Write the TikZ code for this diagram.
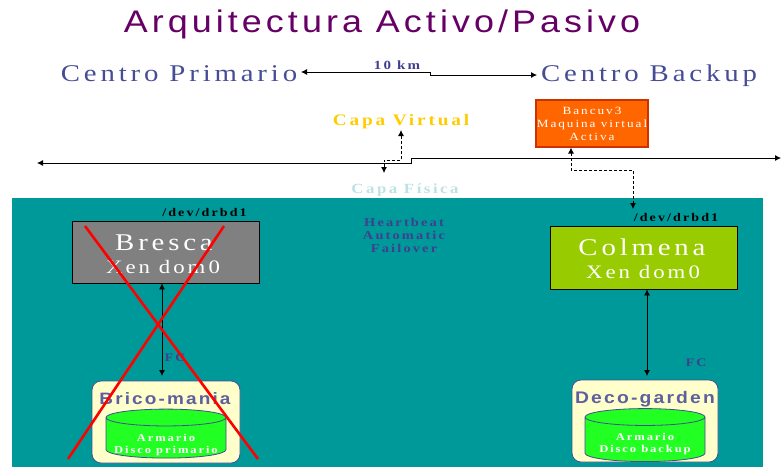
\documentclass[tikz,border=0pt]{standalone}
\usepackage{fontspec}
\setmainfont{Liberation Serif}
\newfontfamily\sansspaced[LetterSpace=13,FakeStretch=1.15]{Liberation Sans}
\newfontfamily\serifwide[LetterSpace=16,FakeStretch=1.2]{Liberation Serif}
\newfontfamily\serifbold[LetterSpace=18,FakeStretch=1.2]{Liberation Serif}
\usetikzlibrary{positioning,shapes.geometric,arrows.meta}
\definecolor{tealbg}{HTML}{009999}
\definecolor{titlepurple}{HTML}{660066}
\definecolor{centroblue}{HTML}{464C96}
\definecolor{storeblue}{HTML}{5F5F9F}
\definecolor{fcblue}{HTML}{3F3F8F}
\definecolor{capagold}{HTML}{FFCC00}
\definecolor{capapale}{HTML}{BCE3E3}
\definecolor{limebox}{HTML}{99CC00}
\definecolor{orangebox}{HTML}{FF6600}
\definecolor{orangeline}{HTML}{CC3300}
\definecolor{creambox}{HTML}{FFFFCC}
\definecolor{diskgreen}{HTML}{22FF22}
\definecolor{crossred}{HTML}{FF0000}
\tikzset{
  wire/.style={black,line width=0.8pt,-{Latex[length=6pt,width=6pt]}},
  wirelong/.style={wire,{Latex[length=6pt,width=6pt]}-{Latex[length=6pt,width=6pt]}},
  dashwire/.style={wirelong,dashed,dash pattern=on 3pt off 2pt},
  serverbox/.style={draw=black,line width=0.8pt,inner sep=0pt,align=center,text=white},
  storebox/.style={draw=centroblue,fill=creambox,rounded corners=9pt,line width=0.8pt},
  diskshape/.style={shape=cylinder,shape border rotate=90,shape aspect=0.28,draw=centroblue,line width=0.8pt,
    cylinder uses custom fill,cylinder body fill=diskgreen,cylinder end fill=diskgreen,inner sep=0pt,
    minimum width=120pt},
  smalltext/.style={font=\serifbold\bfseries\fontsize{10.5}{12}\selectfont,align=center},
  fctext/.style={text=fcblue,font=\serifbold\bfseries\fontsize{11.5}{13}\selectfont},
  drbdtext/.style={font=\serifbold\bfseries\fontsize{11.7}{12}\selectfont},
  centrotext/.style={text=centroblue,anchor=base,font=\serifwide\fontsize{24}{24}\selectfont},
  nametext/.style={text=white,font=\serifwide\fontsize{24}{26}\selectfont},
  xentext/.style={text=white,font=\serifwide\fontsize{19}{20}\selectfont},
  storetext/.style={text=storeblue,font=\sansspaced\bfseries\fontsize{16.5}{19}\selectfont},
  crossline/.style={crossred,line width=2.6pt}
}
\begin{document}
\begin{tikzpicture}[x=1pt,y=-1pt]
    \useasboundingbox (0,0) rectangle (781,467);
    \fill[tealbg] (12,198) rectangle (763,467);
    % heads
    \node[text=titlepurple,font=\sansspaced\fontsize{31.2}{36}\selectfont] (title) at (382,24) {Arquitectura Activo/Pasivo};
    \node[centrotext] (primario) at (179,81) {Centro Primario};
    \node[centrotext] (backup) at (649,81) {Centro Backup};
    \node[text=fcblue,font=\serifbold\bfseries\fontsize{12.5}{12}\selectfont] (dist) at (397,65) {10 km};
    \coordinate (primarioend) at (301,72);
    \coordinate (backupend) at (537,75);
    \draw[wirelong] (primarioend) -- (430,72) -- (430,75) -- (backupend);
    % layers
    \node[text=capagold,font=\serifbold\bfseries\fontsize{16}{16}\selectfont] (virtual) at (401,122) {Capa Virtual};
    \node[text=capapale,font=\serifbold\bfseries\fontsize{14}{15}\selectfont] (fisica) at (405,190) {Capa Física};
    \coordinate (netleft) at (37,163);
    \coordinate (netright) at (781,158);
    \draw[wirelong] (netleft) -- (411,163) -- (411,158) -- (netright);
    \coordinate (vlow) at (384,173);
    \coordinate (vtop) at (401,130);
    \draw[dashwire] (vlow) -- (384,160) -- (401,160) -- (vtop);
    % active machine
    \node[serverbox,draw=orangeline,line width=1.2pt,fill=orangebox,minimum width=112pt,minimum height=47pt,
      font=\serifbold\fontsize{11}{13}\selectfont] (bancuv) at (592,123.5) {Bancuv3\\Maquina virtual\\Activa};
    % servers
    \node[serverbox,fill=gray,minimum width=187pt,minimum height=62pt] (bresca) at (165.5,252) {};
    \node[nametext] (brescaname) at (164,243) {Bresca};
    \node[xentext] (brescaxen) at (163,267) {Xen dom0};
    \node[serverbox,fill=limebox,minimum width=187pt,minimum height=63pt] (colmena) at (643.5,257.5) {};
    \node[nametext] (colmenaname) at (642,247) {Colmena};
    \node[xentext] (colmenaxen) at (643,272) {Xen dom0};
    \node[drbdtext] (drbdleft) at (204.5,212) {/dev/drbd1};
    \node[drbdtext] (drbdright) at (676,217) {/dev/drbd1};
    \node[text=fcblue,font=\serifbold\bfseries\fontsize{12}{13}\selectfont,align=center] (heartbeat) at (404,235) {Heartbeat\\Automatic\\Failover};
    \coordinate (drbdtip) at (633,209);
    \draw[dashwire] (bancuv.south -| 571,148) -- (571,170) -- (633,170) -- (drbdtip);
    % storage
    \node[storebox,minimum width=148pt,minimum height=82pt] (brico) at (166,422) {};
    \node[storebox,minimum width=146pt,minimum height=82pt] (deco) at (645,421) {};
    \node[storetext] (briconame) at (165,399) {Brico-mania};
    \node[storetext,font=\sansspaced\bfseries\fontsize{16.8}{19}\selectfont] (deconame) at (645,399) {Deco-garden};
    \node[diskshape,minimum height=49pt] (discoprim) at (166,438) {\phantom{Disco primario}};
    \node[diskshape,minimum height=53pt] (discoback) at (645,439.5) {\phantom{Disco primario}};
    \node[smalltext,text=white] (armarioprim) at (166,445) {Armario\\Disco primario};
    \node[smalltext,text=white] (armarioback) at (645,444) {Armario\\Disco backup};
    \coordinate (bricotop) at (162,376);
    \coordinate (decotop) at (647,376);
    \draw[wirelong] (bresca.south -| bricotop) -- (bricotop);
    \draw[wirelong] (colmena.south -| decotop) -- (decotop);
    \node[fctext] (fcleft) at (175,358) {FC};
    \node[fctext] (fcright) at (696,363) {FC};
    % failed node
    \coordinate (crossa) at (85,226);
    \coordinate (crossb) at (258,459);
    \coordinate (crossc) at (224,226);
    \coordinate (crossd) at (68,459);
    \draw[crossline] (crossa) -- (crossb);
    \draw[crossline] (crossc) -- (crossd);
\end{tikzpicture}
\end{document}
